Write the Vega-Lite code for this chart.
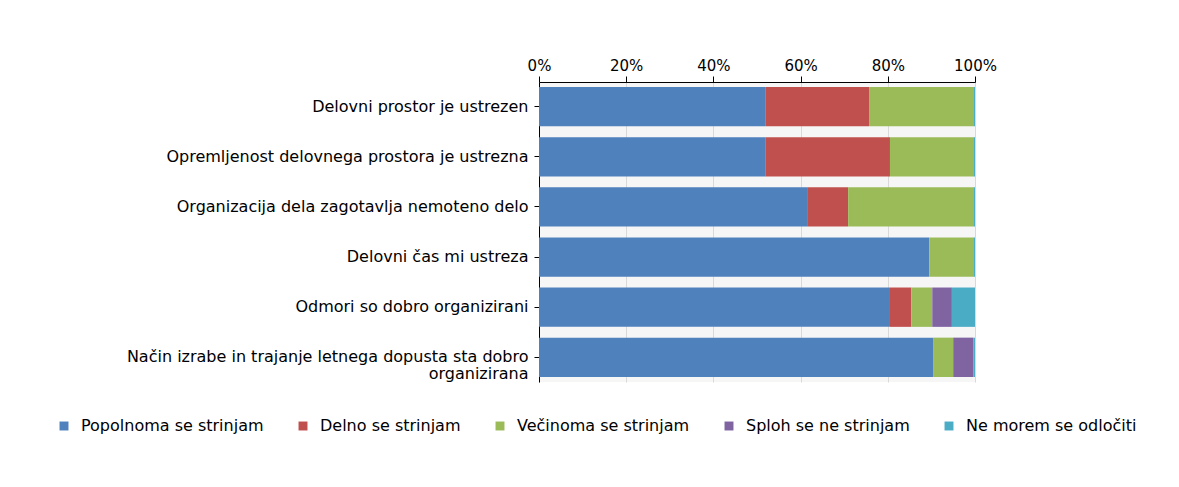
{
  "$schema": "https://vega.github.io/schema/vega-lite/v6.json",
  "width": 436,
  "height": 300,
  "autosize": "none",
  "padding": {"left": 539, "top": 82, "right": 204, "bottom": 105},
  "background": "white",
  "config": {"font": "DejaVu Sans", "view": {"stroke": null, "fill": "#f6f6f6"}},
  "data": {"values": [
    {"trditev": "Delovni prostor je ustrezen", "odgovor": "Popolnoma se strinjam", "rang": 1, "delez": 51.9},
    {"trditev": "Delovni prostor je ustrezen", "odgovor": "Delno se strinjam", "rang": 2, "delez": 23.8},
    {"trditev": "Delovni prostor je ustrezen", "odgovor": "Večinoma se strinjam", "rang": 3, "delez": 23.9},
    {"trditev": "Delovni prostor je ustrezen", "odgovor": "Sploh se ne strinjam", "rang": 4, "delez": 0},
    {"trditev": "Delovni prostor je ustrezen", "odgovor": "Ne morem se odločiti", "rang": 5, "delez": 0.4},
    {"trditev": "Opremljenost delovnega prostora je ustrezna", "odgovor": "Popolnoma se strinjam", "rang": 1, "delez": 51.9},
    {"trditev": "Opremljenost delovnega prostora je ustrezna", "odgovor": "Delno se strinjam", "rang": 2, "delez": 28.6},
    {"trditev": "Opremljenost delovnega prostora je ustrezna", "odgovor": "Večinoma se strinjam", "rang": 3, "delez": 19.1},
    {"trditev": "Opremljenost delovnega prostora je ustrezna", "odgovor": "Sploh se ne strinjam", "rang": 4, "delez": 0},
    {"trditev": "Opremljenost delovnega prostora je ustrezna", "odgovor": "Ne morem se odločiti", "rang": 5, "delez": 0.4},
    {"trditev": "Organizacija dela zagotavlja nemoteno delo", "odgovor": "Popolnoma se strinjam", "rang": 1, "delez": 61.5},
    {"trditev": "Organizacija dela zagotavlja nemoteno delo", "odgovor": "Delno se strinjam", "rang": 2, "delez": 9.4},
    {"trditev": "Organizacija dela zagotavlja nemoteno delo", "odgovor": "Večinoma se strinjam", "rang": 3, "delez": 28.7},
    {"trditev": "Organizacija dela zagotavlja nemoteno delo", "odgovor": "Sploh se ne strinjam", "rang": 4, "delez": 0},
    {"trditev": "Organizacija dela zagotavlja nemoteno delo", "odgovor": "Ne morem se odločiti", "rang": 5, "delez": 0.4},
    {"trditev": "Delovni čas mi ustreza", "odgovor": "Popolnoma se strinjam", "rang": 1, "delez": 89.5},
    {"trditev": "Delovni čas mi ustreza", "odgovor": "Delno se strinjam", "rang": 2, "delez": 0},
    {"trditev": "Delovni čas mi ustreza", "odgovor": "Večinoma se strinjam", "rang": 3, "delez": 10.1},
    {"trditev": "Delovni čas mi ustreza", "odgovor": "Sploh se ne strinjam", "rang": 4, "delez": 0},
    {"trditev": "Delovni čas mi ustreza", "odgovor": "Ne morem se odločiti", "rang": 5, "delez": 0.4},
    {"trditev": "Odmori so dobro organizirani", "odgovor": "Popolnoma se strinjam", "rang": 1, "delez": 80.5},
    {"trditev": "Odmori so dobro organizirani", "odgovor": "Delno se strinjam", "rang": 2, "delez": 4.9},
    {"trditev": "Odmori so dobro organizirani", "odgovor": "Večinoma se strinjam", "rang": 3, "delez": 4.8},
    {"trditev": "Odmori so dobro organizirani", "odgovor": "Sploh se ne strinjam", "rang": 4, "delez": 4.5},
    {"trditev": "Odmori so dobro organizirani", "odgovor": "Ne morem se odločiti", "rang": 5, "delez": 5.3},
    {"trditev": "Način izrabe in trajanje letnega dopusta sta dobro|organizirana", "odgovor": "Popolnoma se strinjam", "rang": 1, "delez": 90.5},
    {"trditev": "Način izrabe in trajanje letnega dopusta sta dobro|organizirana", "odgovor": "Delno se strinjam", "rang": 2, "delez": 0},
    {"trditev": "Način izrabe in trajanje letnega dopusta sta dobro|organizirana", "odgovor": "Večinoma se strinjam", "rang": 3, "delez": 4.5},
    {"trditev": "Način izrabe in trajanje letnega dopusta sta dobro|organizirana", "odgovor": "Sploh se ne strinjam", "rang": 4, "delez": 4.6},
    {"trditev": "Način izrabe in trajanje letnega dopusta sta dobro|organizirana", "odgovor": "Ne morem se odločiti", "rang": 5, "delez": 0.4}
  ]},
  "mark": {"type": "bar"},
  "encoding": {
    "y": {
      "field": "trditev", "type": "nominal", "sort": null,
      "scale": {"paddingInner": 0.215, "paddingOuter": 0.1},
      "axis": {"title": null, "labelExpr": "split(datum.label, '|')", "labelFontSize": 16, "labelColor": "#000", "domainColor": "#000", "tickColor": "#000", "tickSize": 5, "labelPadding": 6, "labelLimit": 600, "labelLineHeight": 17}
    },
    "x": {
      "field": "delez", "type": "quantitative", "stack": "normalize",
      "scale": {"domain": [0, 1], "nice": false},
      "axis": {"orient": "top", "title": null, "format": ".0%", "values": [0, 0.2, 0.4, 0.6, 0.8, 1], "grid": true, "gridColor": "#d9d9d9", "labelFontSize": 15, "labelColor": "#000", "domainColor": "#000", "tickColor": "#000", "tickSize": 6, "labelPadding": 3, "labelFlush": false}
    },
    "color": {
      "field": "odgovor", "type": "nominal",
      "sort": ["Popolnoma se strinjam", "Delno se strinjam", "Večinoma se strinjam", "Sploh se ne strinjam", "Ne morem se odločiti"],
      "scale": {"domain": ["Popolnoma se strinjam", "Delno se strinjam", "Večinoma se strinjam", "Sploh se ne strinjam", "Ne morem se odločiti"], "range": ["#4F81BD", "#C0504D", "#9BBB59", "#8064A2", "#4BACC6"]},
      "legend": {"orient": "none", "direction": "horizontal", "legendX": -483, "legendY": 336, "title": null, "symbolType": "square", "symbolSize": 80, "labelFontSize": 16, "labelColor": "#000", "labelLimit": 400, "columnPadding": 31, "labelOffset": 9, "symbolStrokeWidth": 0}
    },
    "order": {"field": "rang", "type": "quantitative", "sort": "ascending"}
  }
}
